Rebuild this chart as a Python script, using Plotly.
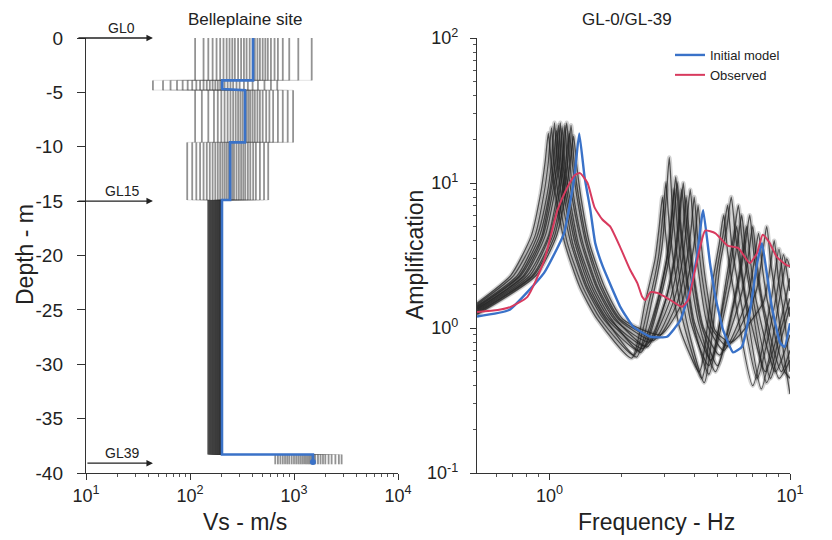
import math
import plotly.graph_objects as go

# ---------------- Left panel: Vs profiles ----------------
layer_top = [0, -3.9, -4.8, -9.6, -14.9, -38.3]
layer_bottom = [-3.9, -4.8, -9.6, -14.9, -38.3, -39.2]

vs_l1 = [290, 180, 560, 240, 420, 135, 350, 700, 255, 470, 210, 900, 310, 165, 530,
         375, 225, 650, 400, 1480, 195, 445, 270, 112, 600, 330, 780, 150, 500, 1100]
vs_l2 = [205, 95, 330, 145, 260, 55, 175, 450, 125, 280, 75, 600, 185, 115, 360,
         230, 155, 400, 215, 690, 105, 300, 165, 44, 520, 195, 245, 65, 135, 85]
vs_l3 = [320, 200, 630, 260, 400, 150, 365, 870, 245, 500, 230, 980, 290, 185, 540,
         380, 215, 700, 420, 780, 170, 445, 275, 112, 580, 335, 470, 130, 350, 305]
vs_l4 = [235, 145, 405, 185, 295, 105, 255, 515, 175, 340, 155, 565, 215, 135, 360,
         265, 165, 430, 280, 470, 125, 310, 205, 94, 380, 245, 325, 115, 225, 195]
vs_l5 = [175, 157, 199, 165, 187, 149, 181, 201, 163, 191, 159, 200, 173, 155, 193,
         183, 161, 197, 185, 198, 153, 189, 169, 151, 195, 177, 196, 167, 179, 171]
vs_rock = [1300, 900, 2150, 1050, 1550, 700, 1400, 2700, 1000, 1700, 860, 2870, 1200, 780, 1900,
           1450, 950, 2300, 1500, 2500, 740, 1600, 1150, 660, 2000, 1350, 1800, 820, 1250, 1100]

initial_vs = [404, 204, 338, 243, 203, 1520]
initial_bottom = [-3.9, -4.7, -9.6, -14.9, -38.3, -39.0]

gl_depths = [0, -15, -39.1]
gl_labels = ["GL0", "GL15", "GL39"]

# ---------------- Right panel: amplification ----------------
ens_freq = [
    [0.5, 0.69, 0.84, 0.92, 0.96, 0.99, 1.02, 1.07, 1.16, 1.34, 1.58, 2.2, 2.5, 2.75, 2.86, 2.95, 3.04, 3.19, 3.48, 4.2, 4.77, 5.09, 5.3, 5.51, 5.83, 7.0, 8.37, 9.0, 9.4, 10],
    [0.5, 0.71, 0.87, 0.95, 0.99, 1.02, 1.05, 1.10, 1.19, 1.38, 1.63, 2.25, 2.59, 2.84, 2.96, 3.05, 3.14, 3.29, 3.6, 4.3, 4.95, 5.28, 5.5, 5.72, 6.05, 7.3, 8.74, 9.4, 9.8, 10],
    [0.5, 0.735, 0.89, 0.98, 1.02, 1.05, 1.08, 1.13, 1.23, 1.42, 1.68, 2.35, 2.8, 3.07, 3.2, 3.3, 3.4, 3.56, 3.9, 4.6, 5.4, 5.76, 6.0, 6.24, 6.6, 7.9, 9.0, 10],
    [0.5, 0.75, 0.91, 1.0, 1.04, 1.07, 1.10, 1.16, 1.25, 1.44, 1.71, 2.3, 2.68, 2.93, 3.06, 3.15, 3.24, 3.4, 3.72, 4.4, 5.13, 5.47, 5.7, 5.93, 6.27, 7.6, 9.0, 9.7, 10],
    [0.5, 0.76, 0.93, 1.01, 1.06, 1.09, 1.12, 1.18, 1.28, 1.47, 1.74, 2.45, 2.89, 3.16, 3.3, 3.4, 3.5, 3.67, 4.0, 4.7, 5.67, 6.05, 6.3, 6.55, 6.93, 8.3, 9.3, 10],
    [0.5, 0.78, 0.94, 1.03, 1.08, 1.11, 1.14, 1.20, 1.30, 1.50, 1.78, 2.5, 3.02, 3.3, 3.44, 3.55, 3.66, 3.83, 4.19, 4.9, 5.94, 6.34, 6.6, 6.86, 7.26, 8.7, 10],
    [0.5, 0.79, 0.96, 1.05, 1.10, 1.13, 1.16, 1.22, 1.32, 1.53, 1.81, 2.4, 2.85, 3.12, 3.25, 3.35, 3.45, 3.62, 3.95, 4.6, 5.49, 5.86, 6.1, 6.34, 6.71, 8.0, 9.2, 10],
    [0.5, 0.81, 0.99, 1.08, 1.13, 1.16, 1.19, 1.25, 1.36, 1.57, 1.86, 2.6, 3.15, 3.44, 3.59, 3.7, 3.81, 4.0, 4.37, 5.1, 6.3, 6.72, 7.0, 7.28, 7.7, 9.2, 10],
    [0.5, 0.83, 1.0, 1.10, 1.14, 1.18, 1.22, 1.27, 1.38, 1.59, 1.89, 2.55, 3.06, 3.35, 3.49, 3.6, 3.71, 3.89, 4.25, 5.0, 6.12, 6.53, 6.8, 7.07, 7.48, 9.0, 10],
    [0.5, 0.85, 1.03, 1.13, 1.17, 1.21, 1.25, 1.31, 1.42, 1.63, 1.94, 2.7, 3.27, 3.58, 3.73, 3.85, 3.97, 4.16, 4.54, 5.3, 6.66, 7.1, 7.4, 7.7, 8.14, 9.5, 10],
    [0.5, 0.86, 1.05, 1.14, 1.19, 1.23, 1.27, 1.33, 1.44, 1.66, 1.97, 2.8, 3.4, 3.72, 3.88, 4.0, 4.12, 4.32, 4.72, 5.5, 7.2, 7.68, 8.0, 8.32, 8.8, 9.5, 10],
    [0.5, 0.88, 1.07, 1.17, 1.22, 1.26, 1.30, 1.36, 1.47, 1.70, 2.02, 2.9, 3.53, 3.86, 4.03, 4.15, 4.27, 4.48, 4.9, 5.7, 7.74, 8.26, 8.6, 8.94, 9.46, 10],
]
ens_amp = [
    [1.48, 2.3, 4.3, 8.5, 14, 22, 13, 7.5, 3.8, 1.9, 1.15, 0.62, 1.5, 3.0, 5, 8, 4.5, 2.3, 1.0, 0.5, 2.1, 3.9, 6, 3.3, 1.8, 0.4, 1.6, 3.5, 2.0, 1.2],
    [1.45, 2.3, 4.3, 8.5, 14, 24, 13, 7.5, 3.8, 1.9, 1.15, 0.65, 1.5, 3.1, 6, 10, 5.5, 2.8, 1.1, 0.45, 2.4, 4.5, 7, 3.8, 2.1, 0.45, 1.6, 3.2, 2.2, 1.8],
    [1.42, 2.3, 4.3, 8.5, 14, 26, 13, 7.5, 3.8, 1.9, 1.15, 0.7, 1.5, 3, 5.4, 9, 5, 2.5, 1.05, 0.55, 1.75, 3.2, 5, 2.8, 1.5, 0.5, 1.0, 2.2],
    [1.40, 2.3, 4.3, 8.5, 14, 23, 13, 7.5, 3.8, 1.9, 1.15, 0.63, 1.6, 3.5, 8, 15, 7, 3.0, 1.1, 0.42, 2.8, 5, 8, 4.4, 2.4, 0.38, 1.5, 3.0, 2.6],
    [1.38, 2.3, 4.3, 8.5, 14, 25, 13, 7.5, 3.8, 1.9, 1.15, 0.72, 1.6, 3.2, 6, 10, 5.5, 2.8, 1.1, 0.6, 2.1, 3.9, 6, 3.3, 1.8, 0.45, 0.9, 1.4],
    [1.36, 2.3, 4.3, 8.5, 14, 26, 13, 7.5, 3.8, 1.9, 1.15, 0.75, 1.5, 3.0, 5.4, 9, 5, 2.5, 1.05, 0.5, 1.75, 3.2, 5, 2.8, 1.5, 0.5, 0.9],
    [1.34, 2.3, 4.3, 8.5, 14, 24, 13, 7.5, 3.8, 1.9, 1.15, 0.68, 1.6, 3.4, 6.6, 11, 6, 3.0, 1.1, 0.48, 2.4, 4.5, 7, 3.8, 2.1, 0.42, 1.0, 1.6],
    [1.32, 2.3, 4.3, 8.5, 14, 25, 13, 7.5, 3.8, 1.9, 1.15, 0.8, 1.5, 2.9, 4.8, 8, 4.4, 2.2, 1.0, 0.65, 1.75, 3.2, 5, 2.8, 1.5, 0.5, 0.7],
    [1.30, 2.3, 4.3, 8.5, 14, 26, 13, 7.5, 3.8, 1.9, 1.15, 0.74, 1.6, 3.2, 6, 10, 5.5, 2.8, 1.1, 0.55, 2.1, 3.9, 6, 3.3, 1.8, 0.45, 0.6],
    [1.28, 2.3, 4.3, 8.5, 14, 22, 13, 7.5, 3.8, 1.9, 1.15, 0.82, 1.5, 3.0, 5.4, 9, 5, 2.5, 1.05, 0.7, 1.6, 2.9, 4.5, 2.5, 1.4, 0.5, 0.45],
    [1.26, 2.3, 4.3, 8.5, 14, 25, 13, 7.5, 3.8, 1.9, 1.15, 0.85, 1.5, 2.9, 4.8, 8, 4.4, 2.2, 1.0, 0.75, 1.75, 3.2, 5, 2.8, 1.5, 0.6, 0.35],
    [1.24, 2.3, 4.3, 8.5, 14, 21, 13, 7.5, 3.8, 1.9, 1.15, 0.9, 1.45, 2.7, 4.2, 7, 3.9, 2.0, 0.95, 0.8, 1.5, 2.6, 4, 2.2, 1.2, 0.5],
]

initial_freq = [0.5, 0.68, 0.95, 1.15, 1.27, 1.33, 1.40, 1.48, 1.55, 1.66, 1.97, 2.23, 2.63, 3.08, 3.5, 3.84,
                4.1, 4.3, 4.36, 4.65, 4.9, 5.27, 5.8, 6.3, 6.8, 7.3, 7.65, 8.0, 8.4, 9.1, 9.5, 10]
initial_amp = [1.2, 1.33, 2.4, 4.5, 11, 22, 11, 6.5, 3.85, 2.7, 1.4, 1.02, 0.87, 0.87, 1.13, 1.83,
               3.1, 5.8, 6.5, 2.8, 1.63, 0.97, 0.68, 0.74, 1.27, 2.8, 3.85, 2.4, 1.4, 0.79, 0.74, 1.08]

observed_freq = [0.5, 0.61, 0.69, 0.81, 0.95, 1.08, 1.19, 1.28, 1.34, 1.44, 1.54, 1.66, 1.79, 1.97, 2.17, 2.32,
                 2.43, 2.5, 2.63, 2.83, 3.18, 3.56, 3.77, 4.03, 4.23, 4.44, 4.9, 5.5, 6.1, 6.8, 7.3, 7.7,
                 8.2, 8.8, 9.7, 10]
observed_amp = [1.29, 1.33, 1.4, 1.64, 2.9, 6.5, 9.4, 11.4, 11.7, 10, 6.8, 5.6, 5.0, 3.6, 2.5, 2.04,
                1.64, 1.56, 1.77, 1.74, 1.56, 1.4, 1.56, 2.5, 3.6, 4.7, 4.5, 3.7, 3.56, 2.8, 3.3, 4.4,
                3.9, 3.1, 2.7, 2.68]

# minor tick positions of the log axes
minor_vs = [20, 30, 40, 50, 60, 70, 80, 90, 200, 300, 400, 500, 600, 700, 800, 900,
            2000, 3000, 4000, 5000, 6000, 7000, 8000, 9000]
minor_freq = [0.6, 0.7, 0.8, 0.9, 2, 3, 4, 5, 6, 7, 8, 9]
minor_amp = [0.2, 0.3, 0.4, 0.5, 0.6, 0.7, 0.8, 0.9, 2, 3, 4, 5, 6, 7, 8, 9,
             20, 30, 40, 50, 60, 70, 80, 90]

# ---------------- Figure ----------------
W, H = 832, 540
FONT = "Liberation Sans, Arial, Helvetica, sans-serif"
INK = "#222222"
BLUE = "#3a72c8"
RED = "#d83a5e"

fig = go.Figure()

layer_lists = [vs_l1, vs_l2, vs_l3, vs_l4, vs_l5, vs_rock]
profiles = list(zip(*layer_lists))

# horizontal connectors of each randomized profile (faint)
for prof in profiles:
    hx, hy = [], []
    for k in range(len(prof) - 1):
        hx += [prof[k], prof[k + 1], None]
        hy += [layer_bottom[k], layer_bottom[k], None]
    fig.add_trace(go.Scatter(x=hx, y=hy, mode="lines", xaxis="x", yaxis="y",
                             line=dict(color="rgba(70,70,70,0.12)", width=1.2),
                             hoverinfo="skip", showlegend=False))
# vertical segments of each randomized profile
for prof in profiles:
    vx, vy = [], []
    for v, t, b in zip(prof, layer_top, layer_bottom):
        vx += [v, v, None]
        vy += [t, b, None]
    fig.add_trace(go.Scatter(x=vx, y=vy, mode="lines", xaxis="x", yaxis="y",
                             line=dict(color="rgba(40,40,40,0.5)", width=1.8),
                             hoverinfo="skip", showlegend=False))

bx, by = [], []
for v, t, b in zip(initial_vs, layer_top, initial_bottom):
    bx += [v, v]
    by += [t, b]
fig.add_trace(go.Scatter(x=bx, y=by, mode="lines", xaxis="x", yaxis="y",
                         line=dict(color=BLUE, width=2.6), hoverinfo="skip", showlegend=False))
fig.add_trace(go.Scatter(x=[initial_vs[-1]], y=[initial_bottom[-1]], mode="markers", xaxis="x", yaxis="y",
                         marker=dict(color=BLUE, size=6), hoverinfo="skip", showlegend=False))

for f, a in zip(ens_freq, ens_amp):
    fig.add_trace(go.Scatter(x=f, y=a, mode="lines", xaxis="x2", yaxis="y2",
                             line=dict(color="rgba(50,50,50,0.22)", width=4.5, shape="spline", smoothing=0.6),
                             hoverinfo="skip", showlegend=False))
for f, a in zip(ens_freq, ens_amp):
    fig.add_trace(go.Scatter(x=f, y=a, mode="lines", xaxis="x2", yaxis="y2",
                             line=dict(color="rgba(35,35,35,0.75)", width=1.3, shape="spline", smoothing=0.6),
                             hoverinfo="skip", showlegend=False))

fig.add_trace(go.Scatter(x=initial_freq, y=initial_amp, mode="lines", xaxis="x2", yaxis="y2",
                         name="Initial model", line=dict(color=BLUE, width=2.4, shape="spline", smoothing=0.4)))
fig.add_trace(go.Scatter(x=observed_freq, y=observed_amp, mode="lines", xaxis="x2", yaxis="y2",
                         name="Observed", line=dict(color=RED, width=2, shape="spline", smoothing=0.5)))


def px_x(p):
    return p / W


def px_y(p):
    return 1 - p / H


axis_common = dict(showline=True, linecolor="#333333", linewidth=1.4, ticks="outside",
                   tickcolor="#333333", tickwidth=1.2, showgrid=False, zeroline=False,
                   automargin=False, mirror=False)
tick_font = dict(family=FONT, size=18, color=INK)


def minor_ticks(vals):
    return dict(tickmode="array", tickvals=vals, ticks="outside", ticklen=3,
                tickwidth=1, tickcolor="#555555", showgrid=False)


fig.update_layout(
    template="none",
    width=W, height=H,
    margin=dict(l=0, r=0, t=0, b=0, pad=0, autoexpand=False),
    paper_bgcolor="white", plot_bgcolor="white",
    font=dict(family=FONT, color=INK),
    xaxis=dict(domain=[px_x(86), px_x(398)], anchor="y", type="log", range=[1, 4],
               tickvals=[10, 100, 1000, 10000],
               ticktext=["10<sup>1</sup>", "10<sup>2</sup>", "10<sup>3</sup>", "10<sup>4</sup>"],
               ticklen=6, tickfont=tick_font, minor=minor_ticks(minor_vs),
               **axis_common),
    yaxis=dict(domain=[px_y(473), px_y(38)], anchor="x", range=[-40, 0],
               tickvals=[0, -5, -10, -15, -20, -25, -30, -35, -40],
               ticktext=["0", "-5", "-10", "-15", "-20", "-25", "-30", "-35", "-40"],
               ticklen=8, ticklabelstandoff=10, tickfont=dict(family=FONT, size=19, color=INK),
               **axis_common),
    xaxis2=dict(domain=[px_x(477), px_x(790)], anchor="y2", type="log",
                range=[math.log10(0.5), 1], tickvals=[1, 10],
                ticktext=["10<sup>0</sup>", "10<sup>1</sup>"], ticklen=6, tickfont=tick_font,
                minor=minor_ticks(minor_freq),
                **axis_common),
    yaxis2=dict(domain=[px_y(473), px_y(38)], anchor="x2", type="log", range=[-1, 2],
                tickvals=[0.1, 1, 10, 100],
                ticktext=["10<sup>-1</sup>", "10<sup>0</sup>", "10<sup>1</sup>", "10<sup>2</sup>"],
                ticklen=6, ticklabelstandoff=8, tickfont=tick_font,
                minor=minor_ticks(minor_amp),
                **axis_common),
    legend=dict(x=px_x(670), y=px_y(40), xanchor="left", yanchor="top",
                bgcolor="rgba(0,0,0,0)", font=dict(family=FONT, size=13, color=INK),
                tracegroupgap=0, itemwidth=30),
    showlegend=True,
)

ann = []


def txt(text, x, y, size, angle=0):
    return dict(text=text, x=px_x(x), y=px_y(y), xref="paper", yref="paper",
                xanchor="center", yanchor="middle", textangle=angle, showarrow=False,
                font=dict(family=FONT, size=size, color=INK))


ann.append(txt("Belleplaine site", 245, 20, 17))
ann.append(txt("GL-0/GL-39", 627, 20, 17))
ann.append(txt("Depth - m", 25, 255, 23, -90))
ann.append(txt("Amplification", 415, 255, 23, -90))
ann.append(txt("Vs - m/s", 245, 522, 23))
ann.append(txt("Frequency - Hz", 656, 522, 23))

arrow_head_vs = 44
for d, lab, tail in zip(gl_depths, gl_labels, [-76, -76, -67]):
    ann.append(dict(x=math.log10(arrow_head_vs), y=d, xref="x", yref="y", ax=tail, ay=0,
                    axref="pixel", ayref="pixel", text="", showarrow=True, arrowhead=2,
                    arrowsize=1, arrowwidth=1.3, arrowcolor="#222222"))
    ann.append(dict(x=math.log10(22), y=d, xref="x", yref="y", yshift=10, text=lab,
                    xanchor="center", yanchor="middle",
                    showarrow=False, font=dict(family=FONT, size=14, color=INK)))

fig.update_layout(annotations=ann)
fig.write_html("out.html", config={"displayModeBar": False},
               post_script="document.body.style.margin='0';document.body.style.overflow='hidden';")
